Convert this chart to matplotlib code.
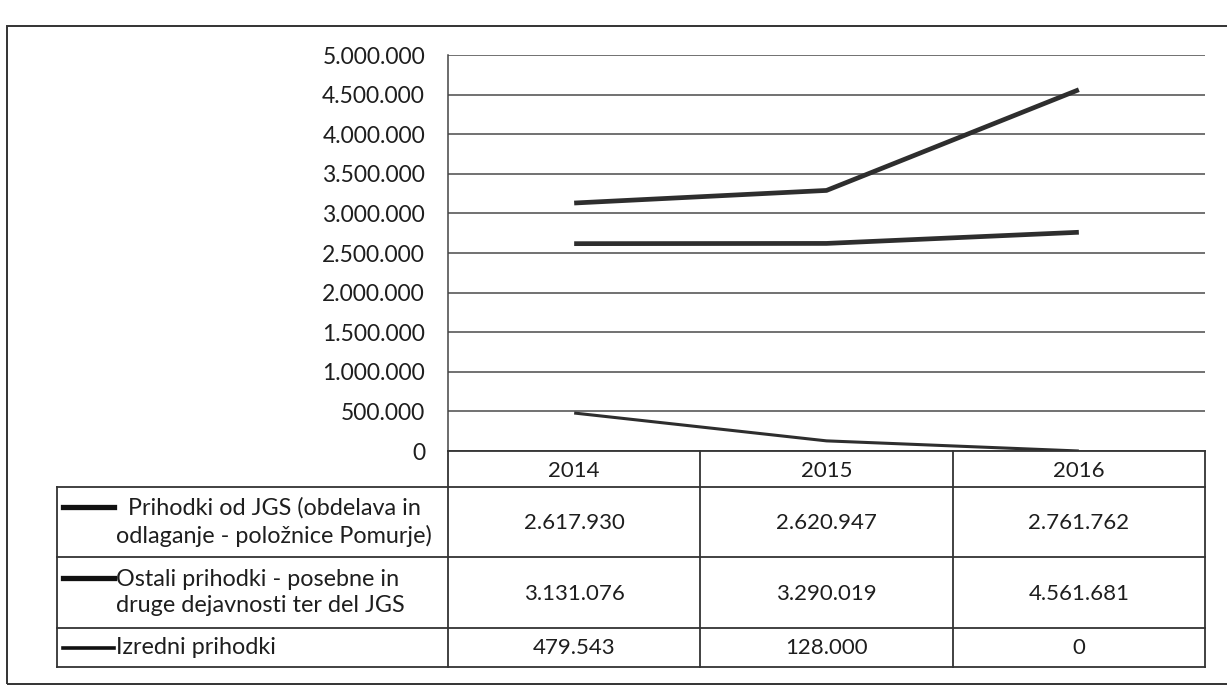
import matplotlib
matplotlib.use("Agg")
import matplotlib.pyplot as plt
from matplotlib.lines import Line2D
from matplotlib.patches import Rectangle
from matplotlib.ticker import FuncFormatter

plt.rcParams['font.family'] = ['Lato', 'DejaVu Sans']

years = ["2014", "2015", "2016"]
series_names = [
    "  Prihodki od JGS (obdelava in\nodlaganje - položnice Pomurje)",
    "Ostali prihodki - posebne in\ndruge dejavnosti ter del JGS",
    "Izredni prihodki",
]
jgs = [2617930, 2620947, 2761762]
ostali = [3131076, 3290019, 4561681]
izredni = [479543, 128000, 0]
series = [jgs, ostali, izredni]
widths = [3.4, 3.4, 2.2]
line_color = "#2e2e2e"

W, H = 1227, 694
fig = plt.figure(figsize=(W / 100, H / 100), dpi=100)

def fx(x):
    return x / W

def fy(y):
    return 1 - y / H

# plot area in pixels
L, R, T, B = 448, 1205, 55, 451
ax = fig.add_axes([fx(L), fy(B), fx(R) - fx(L), fy(T) - fy(B)])
xs = range(len(years))
for vals, lw in zip(series, widths):
    ax.plot(xs, vals, color=line_color, lw=lw, solid_capstyle="butt")
ax.set_xlim(-0.5, len(years) - 0.5)
ax.set_ylim(0, 5000000)
ax.set_yticks(range(0, 5000001, 500000))
ax.yaxis.set_major_formatter(FuncFormatter(lambda v, p: f"{int(v):,}".replace(",", ".")))
ax.grid(axis="y", color="#4a4a4a", lw=1.1)
ax.set_axisbelow(True)
ax.set_xticks([])
ax.tick_params(axis="y", length=0, pad=16.5, labelsize=16.5, colors="#1e1e1e")
for s in ["top", "right", "bottom"]:
    ax.spines[s].set_visible(False)
ax.spines["left"].set_color("#444444")
ax.spines["left"].set_linewidth(1.1)

# data table
tc = "#333333"
tlw = 1.3
col_edges = [L, L + (R - L) / 3, L + 2 * (R - L) / 3, R]
leg_left = 57
row_edges = [B, 487, 557, 628, 667]

def hline(x0, x1, y):
    fig.add_artist(Line2D([fx(x0), fx(x1)], [fy(y), fy(y)], color=tc, lw=tlw))

def vline(x, y0, y1):
    fig.add_artist(Line2D([fx(x), fx(x)], [fy(y0), fy(y1)], color=tc, lw=tlw))

hline(L, R, row_edges[0])
for y in row_edges[1:]:
    hline(leg_left, R, y)
for x in col_edges:
    vline(x, row_edges[0], row_edges[-1])
vline(leg_left, row_edges[1], row_edges[-1])

fs = 16
fs_leg = 16.8
tcol = "#1e1e1e"
for i, yr in enumerate(years):
    cx = (col_edges[i] + col_edges[i + 1]) / 2
    fig.text(fx(cx), fy((row_edges[0] + row_edges[1]) / 2 + 2), yr, ha="center", va="center",
             fontsize=fs, color=tcol)

for r, (name, vals, lw) in enumerate(zip(series_names, series, widths)):
    y0, y1 = row_edges[r + 1], row_edges[r + 2]
    cy = (y0 + y1) / 2
    key_y = cy - 15 if r < 2 else cy
    fig.add_artist(Line2D([fx(63), fx(114)], [fy(key_y), fy(key_y)], color="#111111", lw=lw + 0.4))
    fig.text(fx(116), fy(cy), name, ha="left", va="center", fontsize=fs_leg, color=tcol,
             linespacing=1.3)
    for i, v in enumerate(vals):
        cx = (col_edges[i] + col_edges[i + 1]) / 2
        fig.text(fx(cx), fy(cy + 1), f"{v:,}".replace(",", "."), ha="center", va="center",
                 fontsize=fs, color=tcol)

# outer frame
fig.add_artist(Rectangle((fx(7), fy(684)), fx(1240) - fx(7), fy(26) - fy(684),
                         fill=False, edgecolor="#333333", lw=1.4, clip_on=False))

fig.savefig("out.png", dpi=100, facecolor="white")
